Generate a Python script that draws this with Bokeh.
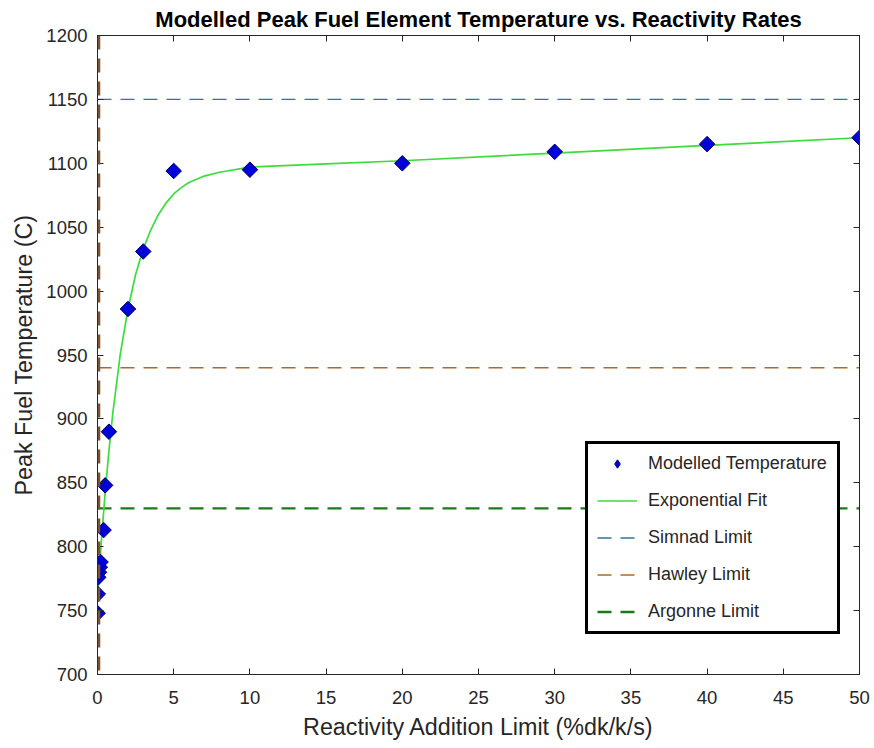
import math
from bokeh.plotting import figure
from bokeh.models import Span, Legend, LegendItem, LinearAxis, FixedTicker, Range1d
from bokeh.embed import file_html
from bokeh.resources import INLINE

# Data
rate = [0.01, 0.02, 0.05, 0.1, 0.15, 0.2, 0.4, 0.5, 0.75, 2, 3, 5, 10, 20, 30, 40, 50]
temp = [748, 763, 776, 780, 784, 788, 813, 848, 890, 986, 1031, 1094, 1095, 1100, 1109, 1115, 1120]

fit_x = [0, 0.25, 0.5, 0.75, 1, 1.5, 2, 2.5, 3, 3.5, 4, 4.5, 5, 5.5, 6, 7, 8, 10, 15, 20, 30, 40, 50]
fit_y = [760, 804, 842, 875, 904, 951, 986, 1013, 1033, 1048, 1060, 1069, 1076, 1081, 1085,
         1090, 1093, 1097, 1099.5, 1102, 1108, 1114, 1120]

simnad_limit = 1150
hawley_limit = 940
argonne_limit = 830
vertical_limit = 0.1

x_ticks = [0, 5, 10, 15, 20, 25, 30, 35, 40, 45, 50]
y_ticks = [700, 750, 800, 850, 900, 950, 1000, 1050, 1100, 1150, 1200]

FONT = "Liberation Sans"
TXT = "#262626"

p = figure(output_backend="svg", toolbar_location=None,
           frame_width=762, frame_height=639,
           min_border_left=97, min_border_right=15, min_border_top=35, min_border_bottom=74,
           x_range=Range1d(0, 50), y_range=Range1d(700, 1200),
           title="Modelled Peak Fuel Element Temperature vs. Reactivity Rates")
p.title.align = "center"
p.title.text_font = FONT
p.title.text_font_size = "22px"
p.title.text_font_style = "bold"
p.title.text_color = "#000000"
p.title.standoff = 8
p.title.offset = 0
p.background_fill_color = "white"
p.border_fill_color = "white"
p.outline_line_color = TXT
p.outline_line_width = 1
p.grid.visible = False

for ax, ticks in ((p.xaxis[0], x_ticks), (p.yaxis[0], y_ticks)):
    ax.ticker = FixedTicker(ticks=ticks)
    ax.major_tick_in = 6
    ax.major_tick_out = 0
    ax.minor_tick_line_color = None
    ax.axis_line_color = TXT
    ax.major_tick_line_color = TXT
    ax.major_label_text_font = FONT
    ax.major_label_text_font_size = "18.5px"
    ax.major_label_text_color = TXT
    ax.axis_label_text_font = FONT
    ax.axis_label_text_font_size = "23.3px"
    ax.axis_label_text_font_style = "normal"
    ax.axis_label_text_color = TXT

p.xaxis.axis_label = "Reactivity Addition Limit (%dk/k/s)"
p.yaxis.axis_label = "Peak Fuel Temperature (C)"
p.xaxis.major_label_standoff = 16
p.yaxis.major_label_standoff = 10
p.xaxis.axis_label_standoff = 7
p.yaxis.axis_label_standoff = 6

for loc, ticks in (("above", x_ticks), ("right", y_ticks)):
    a = LinearAxis(ticker=FixedTicker(ticks=ticks), major_tick_in=6, major_tick_out=0,
                   minor_tick_line_color=None, axis_line_color=TXT,
                   major_tick_line_color=TXT, major_label_text_font_size="0px",
                   major_label_standoff=0)
    p.add_layout(a, loc)

r_argonne = p.line([0, 50], [argonne_limit, argonne_limit], line_color="#1a7a1a",
                   line_width=2.4, line_dash="14 9")
r_hawley = p.line([0, 50], [hawley_limit, hawley_limit], line_color="#b06a25",
                  line_width=1.4, line_dash="14 9")
r_simnad = p.line([0, 50], [simnad_limit, simnad_limit], line_color="#2a789a",
                  line_width=1.4, line_dash="14 9")
vline = Span(location=vertical_limit, dimension="height", line_color="#7f5232",
             line_width=2.5, line_dash="14 9")
p.add_layout(vline)
r_fit = p.line(fit_x, fit_y, line_color="#3ddc3d", line_width=1.7)
r_pts = p.scatter(rate, temp, marker="square", size=11, angle=math.pi / 4,
                  fill_color="#0000d8", line_color="#00006e", line_width=1)
# legend swatch only (a single non-plotted point): the legend does not rotate markers
r_pts_key = p.scatter(x=[float("nan")], y=[float("nan")], marker="diamond", size=18,
                      fill_color="#0000d8", line_color="#00006e", line_width=1)

legend = Legend(items=[
    LegendItem(label="Modelled Temperature", renderers=[r_pts_key]),
    LegendItem(label="Exponential Fit", renderers=[r_fit]),
    LegendItem(label="Simnad Limit", renderers=[r_simnad]),
    LegendItem(label="Hawley Limit", renderers=[r_hawley]),
    LegendItem(label="Argonne Limit", renderers=[r_argonne]),
], location=(488, 40))
legend.border_line_color = "#000000"
legend.border_line_alpha = 1
legend.border_line_width = 3
legend.background_fill_color = "white"
legend.background_fill_alpha = 1
legend.label_text_font = FONT
legend.label_text_font_size = "18px"
legend.label_text_color = TXT
legend.glyph_width = 40
legend.glyph_height = 21
legend.label_height = 21
legend.label_width = 180
legend.label_standoff = 11
legend.spacing = 16
legend.padding = 9
legend.margin = 0
p.add_layout(legend, "center")

open("out.html", "w").write(file_html(p, INLINE))
